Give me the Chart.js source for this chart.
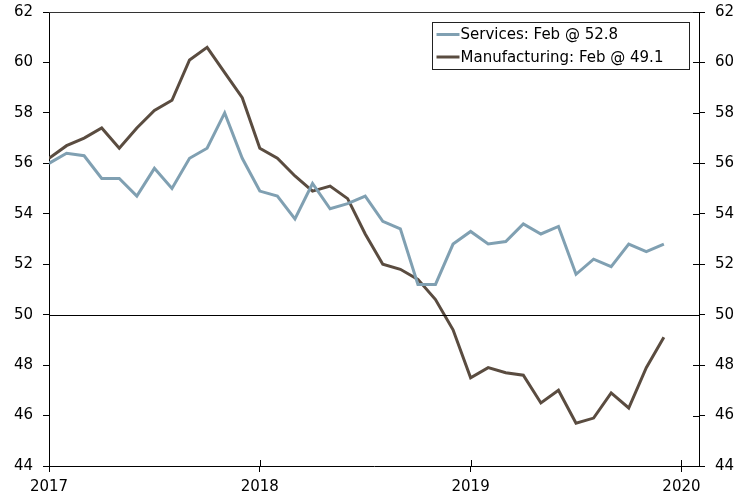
<!DOCTYPE html>
<html><head><meta charset="utf-8">
<script src="https://cdn.jsdelivr.net/npm/chart.js@4/dist/chart.umd.min.js"></script>
<style>html,body{margin:0;padding:0;background:#fff}#wrap{width:751px;height:499px}</style>
</head><body><div id="wrap"><canvas id="c" width="751" height="499"></canvas></div>
<script>
// Months since Jan 2017 (index 0 = Jan 2017)
const months = [0,1,2,3,4,5,6,7,8,9,10,11,12,13,14,15,16,17,18,19,20,21,22,23,24,25,26,27,28,29,30,31,32,33,34,35];
const services = [56.0,56.4,56.3,55.4,55.4,54.7,55.8,55.0,56.2,56.6,58.0,56.2,54.9,54.7,53.8,55.2,54.2,54.4,54.7,53.7,53.4,51.2,51.2,52.8,53.3,52.8,52.9,53.6,53.2,53.5,51.6,52.2,51.9,52.8,52.5,52.8];
const manufacturing = [56.2,56.7,57.0,57.4,56.6,57.4,58.1,58.5,60.1,60.6,59.6,58.6,56.6,56.2,55.5,54.9,55.1,54.6,53.2,52.0,51.8,51.4,50.6,49.4,47.5,47.9,47.7,47.6,46.5,47.0,45.7,45.9,46.9,46.3,47.9,49.1];
const seriesLabels = ['Services: Feb @ 52.8','Manufacturing: Feb @ 49.1'];
const xTickValues = [0,12,24,36];
const xTickLabels = ['2017','2018','2019','2020'];
const yTicks = [44,46,48,50,52,54,56,58,60,62];

const FONT = "'DejaVu Sans', Verdana, sans-serif";
const colS = 'rgb(128,160,178)';
const colM = 'rgb(90,76,64)';

const frame = {
  id:'frame',
  afterDatasetsDraw(chart){
    const {ctx, chartArea:a, scales} = chart;
    ctx.save();
    ctx.strokeStyle='#000'; ctx.lineWidth=1;
    const y50 = Math.round(scales.y.getPixelForValue(50))+0.5;
    ctx.beginPath(); ctx.moveTo(a.left,y50); ctx.lineTo(a.right,y50); ctx.stroke();
    ctx.strokeStyle='#333';
    ctx.beginPath(); ctx.moveTo(a.left,Math.round(a.top)+0.5); ctx.lineTo(a.right,Math.round(a.top)+0.5); ctx.stroke();
    ctx.strokeStyle='#000';
    yTicks.forEach(v=>{const y=Math.round(scales.y.getPixelForValue(v))+0.5; ctx.beginPath(); ctx.moveTo(a.right-6,y); ctx.lineTo(a.right,y); ctx.stroke();});
    xTickValues.forEach(v=>{const x=Math.round(scales.x.getPixelForValue(v))+0.5; ctx.beginPath(); ctx.moveTo(x,a.bottom-6); ctx.lineTo(x,a.bottom); ctx.stroke();});
    const bx=432.5, by=22.5, bw=257, bh=47;
    ctx.fillStyle='#fff'; ctx.fillRect(bx,by,bw,bh);
    ctx.strokeStyle='#222'; ctx.strokeRect(bx,by,bw,bh);
    ctx.font='15px '+FONT; ctx.textBaseline='middle'; ctx.textAlign='left';
    chart.data.datasets.forEach((ds,i)=>{
      const cy = by+12+i*22.5;
      ctx.strokeStyle=ds.borderColor; ctx.lineWidth=3;
      ctx.beginPath(); ctx.moveTo(bx+4,cy); ctx.lineTo(bx+27,cy); ctx.stroke();
      ctx.fillStyle='#000'; ctx.fillText(ds.label,bx+28,cy+1);
    });
    ctx.restore();
  }
};
function noPad(s){s.paddingTop=0;s.paddingBottom=0;s.paddingLeft=0;s.paddingRight=0;}

new Chart(document.getElementById('c'),{
  type:'line',
  data:{datasets:[
    {label:seriesLabels[0],data:months.map((m,i)=>({x:m,y:services[i]})),borderColor:colS,borderWidth:3,pointRadius:0,tension:0,fill:false},
    {label:seriesLabels[1],data:months.map((m,i)=>({x:m,y:manufacturing[i]})),borderColor:colM,borderWidth:3,pointRadius:0,tension:0,fill:false}
  ]},
  options:{
    responsive:false,animation:false,devicePixelRatio:1,
    layout:{padding:{top:12,left:0,right:0,bottom:0}},
    plugins:{legend:{display:false},tooltip:{enabled:false}},
    scales:{
      x:{type:'linear',min:0,max:37,
        afterBuildTicks(s){s.ticks=xTickValues.map(v=>({value:v}));},
        afterFit(s){s.height=33;noPad(s);},
        ticks:{autoSkip:false,maxRotation:0,padding:6,color:'#000',font:{family:FONT,size:15},
          callback(v){const i=xTickValues.indexOf(v);return i>=0?xTickLabels[i]:'';}},
        grid:{drawOnChartArea:false,drawTicks:true,tickLength:6,color:'#000'},
        border:{display:true,color:'#000',width:1}},
      y:{position:'left',min:44,max:62,
        afterBuildTicks(s){s.ticks=yTicks.map(v=>({value:v}));},
        afterFit(s){s.width=49;noPad(s);},
        ticks:{padding:10,color:'#000',font:{family:FONT,size:15}},
        grid:{drawOnChartArea:false,drawTicks:true,tickLength:6,color:'#000'},
        border:{display:true,color:'#000',width:1}},
      y2:{position:'right',min:44,max:62,
        afterBuildTicks(s){s.ticks=yTicks.map(v=>({value:v}));},
        afterFit(s){s.width=52;noPad(s);},
        ticks:{padding:10,color:'#000',font:{family:FONT,size:15}},
        grid:{drawOnChartArea:false,drawTicks:true,tickLength:6,color:'#000'},
        border:{display:true,color:'#000',width:1}}
    }
  },
  plugins:[frame]
});
</script></body></html>
